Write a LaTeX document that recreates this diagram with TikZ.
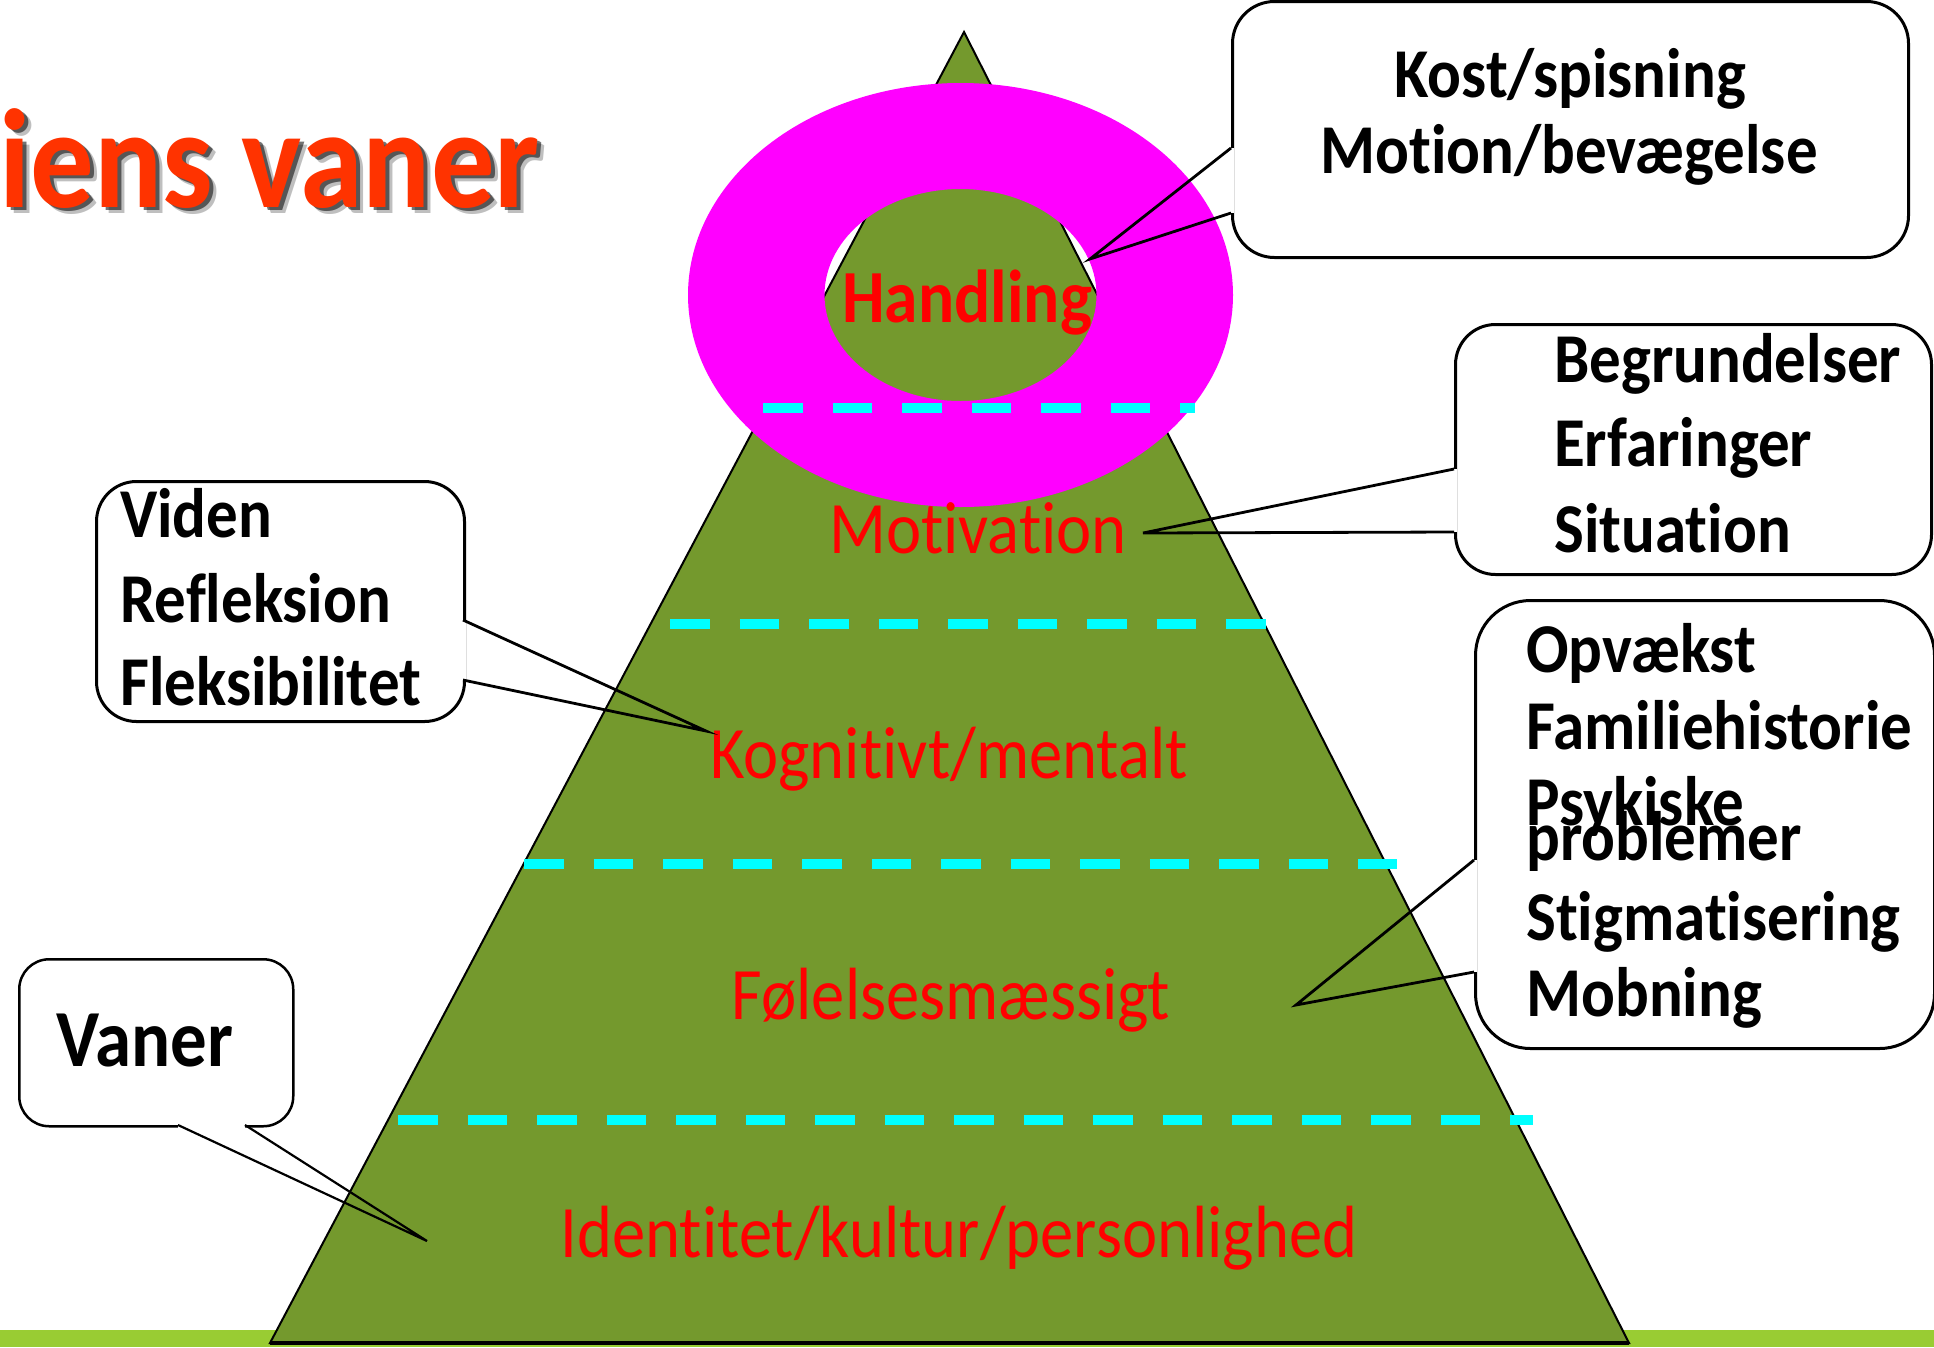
\documentclass[tikz,border=0pt]{standalone}
\usepackage{fontspec}
\setmainfont{Carlito}[FakeStretch=0.9, Ligatures={NoCommon}, RawFeature={-liga;-clig;-calt;-dlig}]
\usetikzlibrary{calc}

\definecolor{pyramidgreen}{RGB}{116,153,45}
\definecolor{groundgreen}{RGB}{153,204,51}
\definecolor{ringpink}{RGB}{255,0,255}
\definecolor{levelcyan}{RGB}{0,255,255}
\definecolor{levelred}{RGB}{255,0,0}
\definecolor{titleorange}{RGB}{255,51,0}

\begin{document}
\begin{tikzpicture}[x=1pt, y=-1pt,
  level/.style={inner sep=0pt, text=levelred, anchor=base,
                font=\fontsize{74}{80}\selectfont},
  item/.style={inner sep=0pt, anchor=base west,
               font=\fontsize{70}{76}\selectfont\bfseries},
  bubble/.style={draw=black, line width=3pt, fill=white, inner sep=0pt,
                 anchor=north west},
  pointer/.style={draw=black, line width=2.8pt, line join=miter},
  gapcover/.style={draw=white, line width=5pt},
  divider/.style={levelcyan, line width=10pt, line cap=butt,
                  dash pattern=on 39.5pt off 30pt},
  titletext/.style={inner sep=0pt, anchor=base east,
                    font=\fontsize{141}{146}\selectfont\bfseries},
]
\useasboundingbox (0,0) rectangle (1934,1347);
\clip (0,0) rectangle (1934,1347);

% ground strip
\fill[groundgreen] (0,1330) rectangle (1934,1347);

% pyramid
\coordinate (apex) at (964,32);
\coordinate (baseR) at (1629,1343);
\coordinate (baseL) at (270,1343);
\filldraw[fill=pyramidgreen, draw=black, line width=2pt] (apex) -- (baseR) -- (baseL) -- cycle;
\draw[black, line width=4pt] (baseL) -- (baseR);

% ring around the top level
\coordinate (ringc) at (960.5,295);
\fill[ringpink, even odd rule] (ringc) ellipse [x radius=272.5, y radius=212]
                               (ringc) ellipse [x radius=136, y radius=106];

% level dividers
\coordinate (d1a) at (763,408);  \coordinate (d1b) at (1195,408);
\coordinate (d2a) at (670,624);  \coordinate (d2b) at (1266,624);
\coordinate (d3a) at (524,864);  \coordinate (d3b) at (1397,864);
\coordinate (d4a) at (398,1120); \coordinate (d4b) at (1533,1120);
\draw[divider] (d1a) -- (d1b);
\draw[divider] (d2a) -- (d2b);
\draw[divider] (d3a) -- (d3b);
\draw[divider] (d4a) -- (d4b);

% level labels
\node[level, font=\fontsize{75}{80}\selectfont\bfseries] (handling) at (967,322) {Handling};
\node[level] (motivation) at (978,553) {Motivation};
\node[level] (kognitivt) at (949,778) {Kognitivt/mentalt};
\node[level] (folelser) at (951,1019) {Følelsesmæssigt};
\node[level] (identitet) at (959,1257) {Identitet/kultur/personlighed};

% title with a soft drop shadow
\node[titletext, text=black, opacity=0.25] (titleshadeB) at (547,213) {iens vaner};
\node[titletext, text=black, opacity=0.55] (titleshadeA) at (544,210) {iens vaner};
\node[titletext, text=titleorange] (title) at (540,207) {iens vaner};

% callout: Kost / Motion
\node[bubble, rounded corners=42pt, minimum width=676pt, minimum height=256pt] (kostbox) at (1231,0) {};
\coordinate (kostB1) at (1231,148);
\coordinate (kostB2) at (1231,213);
\coordinate (kostTip) at (1090,259);
\draw[gapcover] (kostB1) -- (kostB2);
\draw[pointer] (kostB1) -- (kostTip) -- (kostB2);
\node[item, anchor=base] (kost) at (1570,97) {Kost/spisning};
\node[item, anchor=base] (motion) at (1569,173) {Motion/bevægelse};

% callout: Begrundelser
\node[bubble, rounded corners=40pt, minimum width=476pt, minimum height=250pt] (begrbox) at (1454,323) {};
\coordinate (begrB1) at (1454,469);
\coordinate (begrB2) at (1454,532);
\coordinate (begrTip) at (1143,533);
\draw[gapcover] (begrB1) -- (begrB2);
\draw[pointer] (begrB1) -- (begrTip) -- (begrB2);
\node[item] (begrundelser) at (1554,382) {Begrundelser};
\node[item] (erfaringer) at (1554,466) {Erfaringer};
\node[item] (situation) at (1554,552) {Situation};

% callout: Opvaekst
\node[bubble, rounded corners=55pt, minimum width=459pt, minimum height=448pt] (opvbox) at (1474,599) {};
\coordinate (opvB1) at (1474,860);
\coordinate (opvB2) at (1474,972);
\coordinate (opvTip) at (1296,1005);
\draw[gapcover] (opvB1) -- (opvB2);
\draw[pointer] (opvB1) -- (opvTip) -- (opvB2);
\node[item] (opvaekst) at (1526,672) {Opvækst};
\node[item] (familie) at (1526,749) {Familiehistorie};
\node[item] (psykiske) at (1526,825) {Psykiske};
\node[item] (problemer) at (1526,860) {problemer};
\node[item] (stigma) at (1526,940) {Stigmatisering};
\node[item] (mobning) at (1526,1016) {Mobning};

% callout: Viden
\node[bubble, rounded corners=40pt, minimum width=368pt, minimum height=240pt] (videnbox) at (95,480) {};
\coordinate (videnB1) at (463,620);
\coordinate (videnB2) at (463,680);
\coordinate (videnTip) at (706,731);
\draw[gapcover] (videnB1) -- (videnB2);
\draw[pointer] (videnB1) -- (videnTip) -- (videnB2);
\node[item] (viden) at (120,537) {Viden};
\node[item] (refleksion) at (120,622) {Refleksion};
\node[item] (fleksibilitet) at (120,705) {Fleksibilitet};

% callout: Vaner
\node[bubble, line width=2.5pt, rounded corners=30pt, minimum width=274pt, minimum height=167pt] (vanerbox) at (18,958) {};
\coordinate (vanerB1) at (178,1125);
\coordinate (vanerB2) at (245,1125);
\coordinate (vanerTip) at (427,1241);
\draw[gapcover] (vanerB1) -- (vanerB2);
\draw[pointer, line width=2.2pt] (vanerB1) -- (vanerTip) -- (vanerB2);
\node[item, font=\fontsize{81}{84}\selectfont\bfseries] (vaner) at (56,1066) {Vaner};

\end{tikzpicture}
\end{document}
